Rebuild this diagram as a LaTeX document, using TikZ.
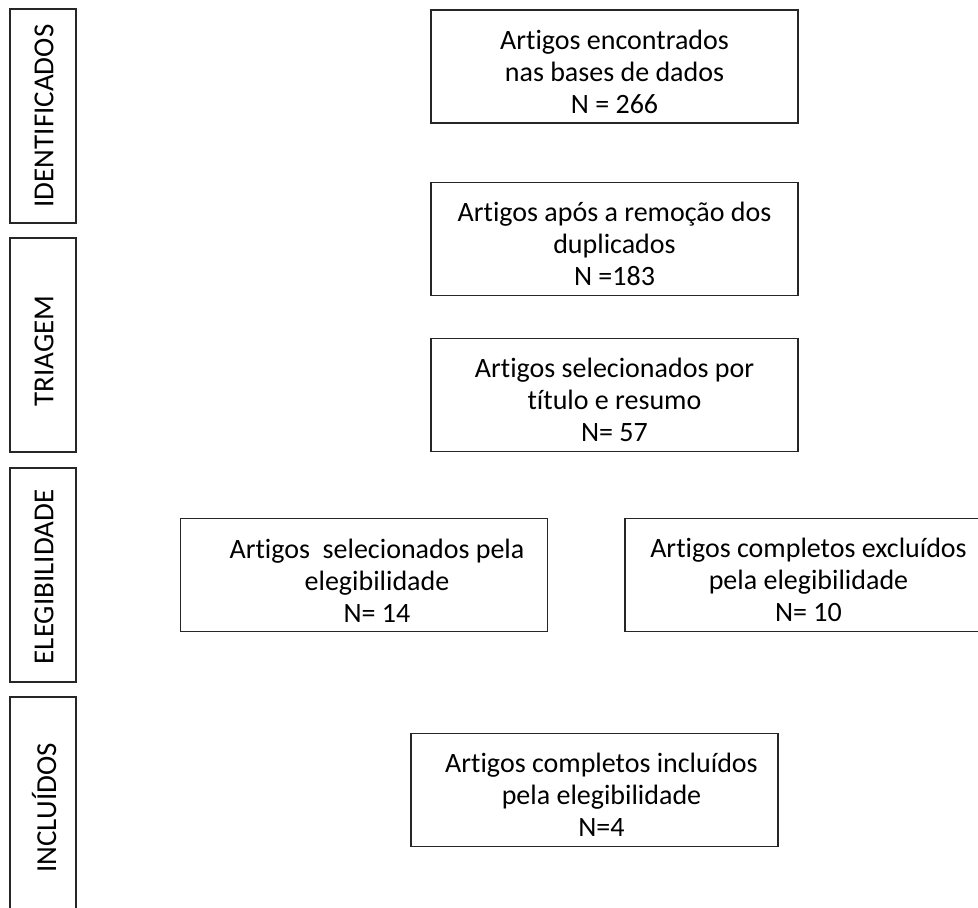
\documentclass[tikz,border=0pt]{standalone}
\usepackage{fontspec}
\setmainfont{Carlito}[Ligatures=NoCommon]
\begin{document}
\begin{tikzpicture}[x=1pt,y=-1pt,
  boxstyle/.style={draw=black!85, line width=1.1pt, rectangle, inner sep=0pt},
  sidebox/.style={boxstyle, minimum width=66pt, minimum height=214pt},
  mainbox/.style={boxstyle, minimum width=367pt, minimum height=113pt},
  txt/.style={align=center, inner sep=0pt, font=\fontsize{28}{32}\selectfont},
  sidetxt/.style={rotate=90, inner sep=0pt, font=\fontsize{29}{32}\selectfont}]
\useasboundingbox (0,0) rectangle (978,908);
% side boxes
\node[sidebox] (s1) at (43,116) {};
\node[sidebox] (s2) at (43,345) {};
\node[sidebox] (s3) at (43,575) {};
\node[sidebox] (s4) at (43,804) {};
\node[sidetxt] (s1t) at (44,116) {IDENTIFICADOS};
\node[sidetxt] (s2t) at (44,351) {TRIAGEM};
\node[sidetxt] (s3t) at (44,577) {ELEGIBILIDADE};
\node[sidetxt] (s4t) at (44,808) {INCLUÍDOS};
% main boxes
\node[mainbox] (b1) at (614.5,66.5) {};
\node[mainbox] (b2) at (614.5,239) {};
\node[mainbox] (b3) at (614.5,395) {};
\node[mainbox] (b4) at (364,575) {};
\node[mainbox] (b5) at (808.5,575) {};
\node[mainbox] (b6) at (594.5,790) {};
\node[txt] (b1t) at ([yshift=-5pt]b1.center) {Artigos encontrados\\nas bases de dados\\N = 266};
\node[txt] (b2t) at ([yshift=-5pt]b2.center) {Artigos após a remoção dos\\duplicados\\N =183};
\node[txt] (b3t) at ([yshift=-5pt]b3.center) {Artigos selecionados por\\título e resumo\\N= 57};
\node[txt] (b4t) at ([xshift=13pt,yshift=-6pt]b4.center) {Artigos\ \ selecionados pela\\elegibilidade\\N= 14};
\node[txt] (b5t) at ([yshift=-5pt]b5.center) {Artigos completos excluídos\\pela elegibilidade\\N= 10};
\node[txt] (b6t) at ([xshift=7pt,yshift=-5pt]b6.center) {Artigos completos incluídos\\pela elegibilidade\\N=4};
\end{tikzpicture}
\end{document}
